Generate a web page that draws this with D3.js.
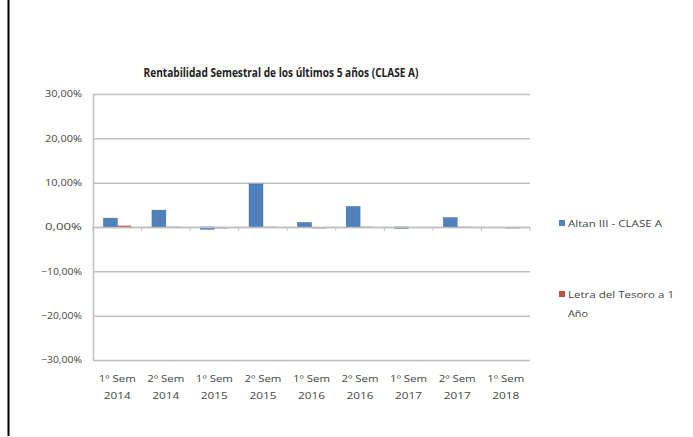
<!DOCTYPE html>
<html>
<head>
<meta charset="utf-8">
<script src="https://cdn.jsdelivr.net/npm/d3@7"></script>
<style>
  body { margin: 0; background: #fff; }
  svg { font-family: "Open Sans", "DejaVu Sans", sans-serif; }
</style>
</head>
<body>
<div id="chart"></div>
<script>
// datos
const categories = ["1º Sem|2014", "2º Sem|2014", "1º Sem|2015", "2º Sem|2015", "1º Sem|2016",
  "2º Sem|2016", "1º Sem|2017", "2º Sem|2017", "1º Sem|2018"];
const altanValues = [2.0, 3.8, -0.5, 9.7, 1.0, 4.6, -0.3, 2.1, 0.0];
const letraValues = [0.3, 0.05, -0.3, 0.05, -0.3, 0.05, -0.05, 0.05, -0.3];
const seriesNames = ["Altan III - CLASE A", "Letra del Tesoro a 1|Año"];
const yTicks = [-30, -20, -10, 0, 10, 20, 30];

const W = 693, H = 437;
const plot = { left: 93, right: 530, top: 94, bottom: 360 };
const colors = ["#4f81bd", "#c0504d"];

const svg = d3.select("#chart").append("svg")
  .attr("width", W)
  .attr("height", H);

// marco izquierdo
svg.append("line")
  .attr("x1", 8.5).attr("x2", 8.5)
  .attr("y1", 0).attr("y2", 436)
  .attr("stroke", "#000")
  .attr("stroke-width", 2);

svg.append("text")
  .attr("x", 281)
  .attr("y", 77)
  .attr("text-anchor", "middle")
  .attr("textLength", 275)
  .attr("lengthAdjust", "spacingAndGlyphs")
  .style("font-size", "13px")
  .style("font-weight", "bold")
  .attr("fill", "#222")
  .text("Rentabilidad Semestral de los últimos 5 años (CLASE A)");

// Escalas
const x = d3.scaleBand().domain(categories).range([plot.left, plot.right]);
const y = d3.scaleLinear().domain([-30, 30]).range([plot.bottom, plot.top]);
const barW = x.bandwidth() / 3.5;

// Graella
svg.append("g")
  .attr("transform", `translate(${plot.left},0)`)
  .call(d3.axisLeft(y).tickValues(yTicks).tickSize(-(plot.right - plot.left)).tickFormat(""))
  .call(g => g.select(".domain").remove())
  .call(g => g.selectAll("line").attr("stroke", "#bfbfbf").attr("stroke-width", 1.5));

// Eix Y
const yAxis = svg.append("g")
  .attr("transform", `translate(${plot.left},0)`)
  .call(d3.axisLeft(y).tickValues(yTicks).tickSize(0).tickPadding(11)
    .tickFormat(d => d3.format(".2f")(d).replace(".", ",") + "%"));
yAxis.select(".domain").attr("stroke", "#bfbfbf").attr("stroke-width", 1.5);
yAxis.selectAll("text")
  .style("font-size", "9px")
  .attr("font-family", "Open Sans")
  .attr("textLength", d => d < 0 ? 41 : 37)
  .attr("lengthAdjust", "spacingAndGlyphs")
  .attr("fill", "#444");

// Barras
const series = [altanValues, letraValues];
series.forEach((vals, s) => {
  svg.append("g").selectAll("rect")
    .data(vals)
    .join("rect")
    .attr("x", (d, i) => x(categories[i]) + barW * 0.75 + s * barW)
    .attr("y", d => y(Math.max(0, d)))
    .attr("width", barW)
    .attr("height", d => Math.abs(y(d) - y(0)))
    .attr("fill", colors[s])
    .attr("stroke", s === 0 ? "#3a6aa5" : "none")
    .attr("stroke-width", 0.5);
});

// Eix X en el cero
const xAxis = svg.append("g")
  .attr("transform", `translate(0,${y(0)})`)
  .call(d3.axisBottom(x).tickSize(0).tickFormat(""));
xAxis.select(".domain").attr("stroke", "#bfbfbf").attr("stroke-width", 1.5);

svg.append("g").selectAll("line")
  .data(categories.concat(["end"]))
  .join("line")
  .attr("x1", (d, i) => i < categories.length ? x(d) : plot.right)
  .attr("x2", (d, i) => i < categories.length ? x(d) : plot.right)
  .attr("y1", y(0))
  .attr("y2", y(0) + 4)
  .attr("stroke", "#bfbfbf")
  .attr("stroke-width", 1);

// etiquetas de categoria
const labels = svg.append("g").selectAll("text")
  .data(categories)
  .join("text")
  .attr("text-anchor", "middle")
  .style("font-size", "9px")
  .attr("fill", "#444");
labels.each(function(d) {
  const parts = d.split("|");
  const t = d3.select(this);
  parts.forEach((p, i) => {
    t.append("tspan")
      .attr("x", x(d) + x.bandwidth() / 2)
      .attr("y", i === 0 ? 382 : 399)
      .attr("textLength", i === 0 ? 37 : 27)
      .attr("lengthAdjust", "spacingAndGlyphs")
      .text(p);
  });
});

// Leyenda
const legendY = [223, 294];
const legendLen = [[94], [106, 20]];
seriesNames.forEach((name, i) => {
  svg.append("rect")
    .attr("x", 559)
    .attr("y", legendY[i] - 3)
    .attr("width", 6)
    .attr("height", 6)
    .attr("fill", colors[i]);
  const t = svg.append("text")
    .style("font-size", "9px")
    .attr("fill", "#444");
  name.split("|").forEach((p, j) => {
    t.append("tspan")
      .attr("x", 568)
      .attr("y", legendY[i] + 3.5 + j * 19)
      .attr("textLength", legendLen[i][j])
      .attr("lengthAdjust", "spacingAndGlyphs")
      .text(p);
  });
});
</script>
</body>
</html>
